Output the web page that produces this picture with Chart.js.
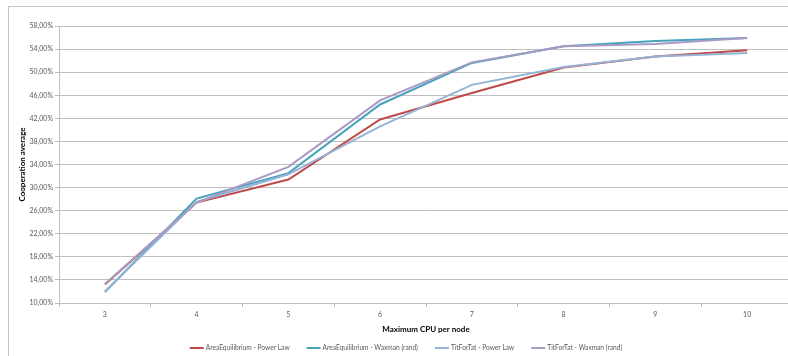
<!DOCTYPE html>
<html>
<head>
<meta charset="utf-8">
<script src="https://cdn.jsdelivr.net/npm/chart.js@4"></script>
<style>
  html, body { margin: 0; padding: 0; overflow: hidden; background: #fff; }
  canvas { display: block; }
</style>
</head>
<body>
<canvas id="chart" width="820" height="356"></canvas>
<script>
// Maximum CPU per node (x categories)
const cpuPerNode = ['3', '4', '5', '6', '7', '8', '9', '10'];

// Cooperation average, in percent
const areaEqPowerLaw    = [13.2, 27.4, 31.4, 41.8, 46.4, 50.8, 52.7, 53.8];
const areaEqWaxman      = [11.9, 28.1, 32.5, 44.4, 51.6, 54.5, 55.4, 55.9];
const titForTatPowerLaw = [12.0, 27.5, 32.3, 40.6, 47.8, 50.9, 52.7, 53.3];
const titForTatWaxman   = [13.3, 27.4, 33.6, 45.1, 51.7, 54.5, 54.9, 55.9];

const seriesNames = [
  'AreaEquilibrium - Power Law',
  'AreaEquilibrium - Waxman (rand)',
  'TitForTat - Power Law',
  'TitForTat - Waxman (rand)'
];
const seriesColors = ['#BE4B48', '#45A3BC', '#95B3D7', '#A99AC4'];

// y axis range and tick step
const yMin = 10, yMax = 58, yStep = 4;

const FONT = 'Lato';
const GRID = '#BFBFBF';

// white background and outer chart frame
const framePlugin = {
  id: 'frame',
  beforeDraw(chart) {
    const ctx = chart.ctx;
    ctx.save();
    ctx.fillStyle = '#fff';
    ctx.fillRect(0, 0, chart.width, chart.height);
    ctx.strokeStyle = '#C6C6C6';
    ctx.lineWidth = 1;
    ctx.strokeRect(8.5, 6.5, chart.width, chart.height);
    ctx.restore();
  }
};

// single-row legend with short line samples
const lineLegendPlugin = {
  id: 'lineLegend',
  afterDraw(chart) {
    const ctx = chart.ctx;
    ctx.save();
    ctx.font = '6.6px ' + FONT;
    const lineW = 14, gap = 2, itemGap = 17;
    const items = chart.data.datasets.map(ds => ({
      label: ds.label,
      color: ds.borderColor,
      w: lineW + gap + ctx.measureText(ds.label).width
    }));
    const total = items.reduce((s, it) => s + it.w, 0) + itemGap * (items.length - 1);
    let x = 406 - total / 2;
    const y = 348;
    items.forEach(it => {
      ctx.strokeStyle = it.color;
      ctx.lineWidth = 2;
      ctx.beginPath();
      ctx.moveTo(x, y);
      ctx.lineTo(x + lineW, y);
      ctx.stroke();
      ctx.fillStyle = '#595959';
      ctx.textBaseline = 'middle';
      ctx.textAlign = 'left';
      ctx.fillText(it.label, x + lineW + gap, y);
      x += it.w + itemGap;
    });
    ctx.restore();
  }
};

const seriesData = [areaEqPowerLaw, areaEqWaxman, titForTatPowerLaw, titForTatWaxman];

new Chart(document.getElementById('chart'), {
  type: 'line',
  data: {
    labels: cpuPerNode,
    datasets: seriesData.map((values, i) => ({
      label: seriesNames[i],
      data: values,
      borderColor: seriesColors[i],
      backgroundColor: seriesColors[i],
      borderWidth: 2,
      pointRadius: 0,
      tension: 0,
      fill: false,
      order: seriesData.length - i
    }))
  },
  options: {
    responsive: false,
    animation: false,
    devicePixelRatio: 1,
    layout: { padding: { left: 0, top: 26, right: 27, bottom: 0 } },
    plugins: {
      legend: { display: false },
      tooltip: { enabled: false }
    },
    scales: {
      x: {
        type: 'category',
        offset: true,
        grid: {
          offset: true,
          drawOnChartArea: false,
          drawTicks: true,
          tickLength: 4,
          color: GRID
        },
        border: { color: GRID },
        ticks: {
          font: { family: FONT, size: 7 },
          color: '#595959',
          padding: 4,
          maxRotation: 0
        },
        title: {
          display: true,
          text: 'Maximum CPU per node',
          font: { family: FONT, size: 8, weight: 'bold' },
          color: '#000',
          padding: { top: 0, bottom: 22 }
        },
        afterFit(scale) { scale.height = 53; }
      },
      y: {
        min: yMin,
        max: yMax,
        ticks: {
          stepSize: yStep,
          font: { family: FONT, size: 7 },
          color: '#595959',
          padding: 2,
          callback: v => v.toFixed(2).replace('.', ',') + '%'
        },
        grid: { color: GRID, tickLength: 4 },
        border: { color: GRID },
        title: {
          display: true,
          text: 'Cooperation average',
          font: { family: FONT, size: 8, weight: 'bold' },
          color: '#000',
          padding: { top: 18, bottom: 0 }
        },
        afterFit(scale) { scale.width = 59; }
      }
    }
  },
  plugins: [framePlugin, lineLegendPlugin]
});
</script>
</body>
</html>
